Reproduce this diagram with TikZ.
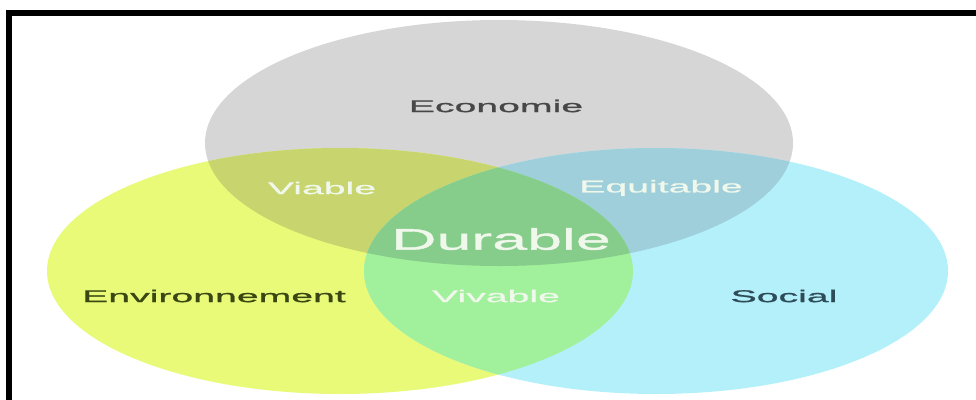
\documentclass[tikz,border=0pt]{standalone}
\usepackage{fontspec}
\setmainfont{Liberation Sans}
% wide faces for the labels
\newfontfamily\pillarfont{Liberation Sans}[FakeStretch=2.3, FakeBold=1.2]
\newfontfamily\corefont{Liberation Sans}[FakeStretch=2.1, FakeBold=1.2]

\definecolor{ecogray}{HTML}{D6D6D6}
\definecolor{envyellow}{HTML}{E8FA78}
\definecolor{soccyan}{HTML}{B4F0FA}
\definecolor{viablecol}{HTML}{C8D46E}
\definecolor{equitcol}{HTML}{9ECFDB}
\definecolor{vivablecol}{HTML}{A0F09C}
\definecolor{durablecol}{HTML}{86CC8A}
\definecolor{ecotext}{HTML}{474747}
\definecolor{envtext}{HTML}{3A4712}
\definecolor{soctext}{HTML}{2E4C58}
\definecolor{meettext}{HTML}{F0F8EC}

% the three spheres
\newcommand{\ecoshape}{(499,143) ellipse [x radius=294, y radius=123]}
\newcommand{\envshape}{(340,271) ellipse [x radius=293, y radius=123]}
\newcommand{\socshape}{(656,271) ellipse [x radius=292, y radius=123]}

\begin{document}
\begin{tikzpicture}[x=0.02cm, y=-0.02cm,
    pillar/.style={font=\pillarfont\fontsize{9.7}{11}\selectfont},
    meet/.style={pillar, text=meettext},
    core/.style={font=\corefont\fontsize{17}{20}\selectfont, text=meettext}]

    \useasboundingbox (0,0) rectangle (976,399);

    % base ellipses
    \fill [ecogray] \ecoshape;
    \fill [envyellow] \envshape;
    \fill [soccyan] \socshape;

    % pairwise overlaps
    \begin{scope}
        \clip \ecoshape;
        \fill [viablecol] \envshape;
        \fill [equitcol] \socshape;
    \end{scope}
    \begin{scope}
        \clip \envshape;
        \fill [vivablecol] \socshape;
    \end{scope}

    % centre
    \begin{scope}
        \clip \ecoshape;
        \clip \envshape;
        \fill [durablecol] \socshape;
    \end{scope}

    % labels
    \node [pillar, text=ecotext] (eco) at (496,106) {Economie};
    \node [pillar, text=envtext] (env) at (214,296) {Environnement};
    \node [pillar, text=soctext] (soc) at (784,296) {Social};
    \node [meet] (viable) at (322,188) {Viable};
    \node [meet] (equit) at (661,188) {Equitable};
    \node [meet] (vivable) at (496,296) {Vivable};
    \node [core] (durable) at (501,239) {Durable};

    % frame
    \draw [line width=0.12cm] (9,13) rectangle (1000,420);
\end{tikzpicture}
\end{document}
